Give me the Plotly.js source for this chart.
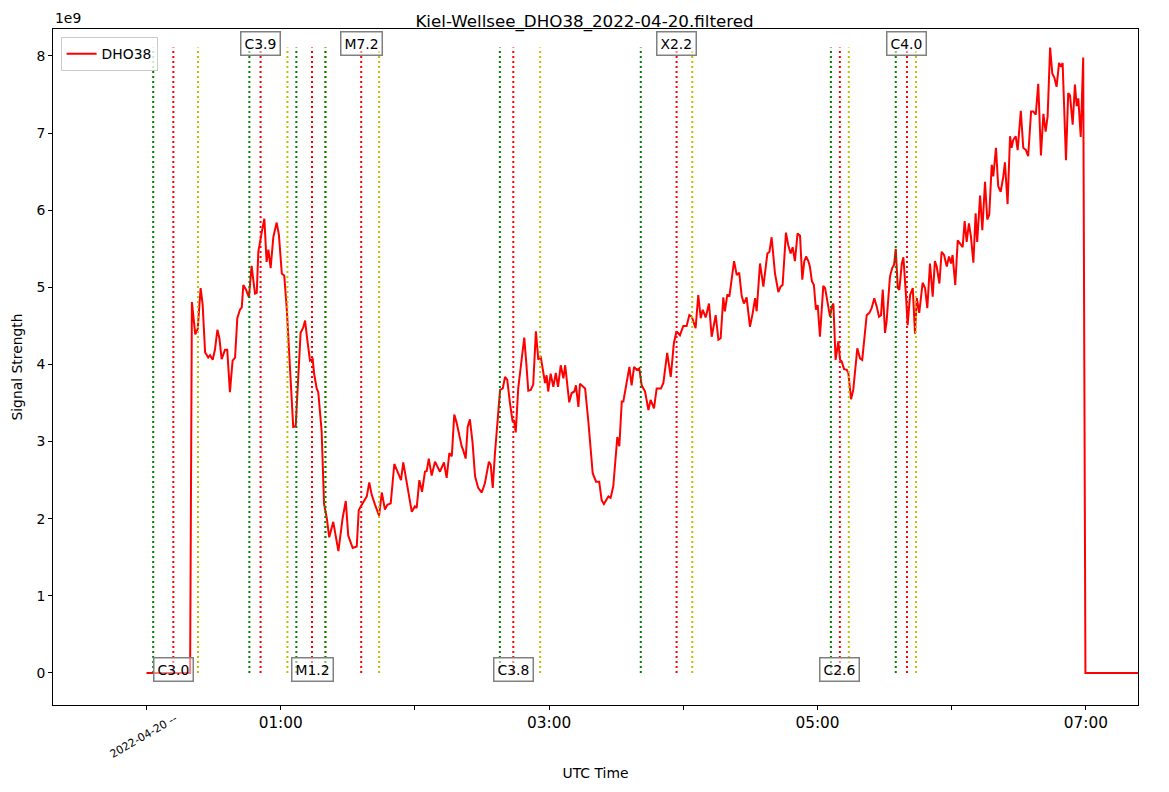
<!DOCTYPE html>
<html>
<head>
<meta charset="utf-8">
<script src="https://cdn.plot.ly/plotly-3.0.1.min.js"></script>
<style>
  html, body { margin: 0; padding: 0; background: #fff; }
  #chart { width: 1169px; height: 792px; }
</style>
</head>
<body>
<div id="chart"></div>
<script>
// minutes after 2022-04-20 00:00 UTC, signal in units of 1e9
let minutes = [0, 19.5, 20.3, 21.8, 22.9, 24.2, 25.1, 26.2, 27.6, 28.4, 29.6, 30.6, 31.7, 32.6, 33.6, 35.1,
  36.1, 37.3, 38.5, 39.6, 40.6, 41.8, 42.6, 43.3, 44.5, 45.8, 47.0, 48.5, 49.3, 50.0, 51.5, 52.7,
  53.7, 54.5, 55.5, 56.7, 58.2, 59.2, 60.5, 61.6, 62.7, 64.2, 65.6, 66.7, 67.9, 68.9, 70.1, 70.9,
  71.9, 73.1, 74.3, 75.0, 76.1, 76.8, 78.3, 79.4, 80.6, 81.7, 83.5, 85.8, 87.7, 89.1, 90.2, 92.2,
  94.0, 94.9, 95.8, 97.2, 98.5, 99.6, 100.7, 102.2, 104.0, 105.2, 106.6, 107.7, 109.2, 110.8, 111.9, 113.0,
  113.8, 114.8, 116.0, 117.1, 118.6, 120.0, 120.8, 122.0, 123.2, 124.5, 125.3, 126.2, 127.5, 129.0, 131.2, 133.0,
  134.2, 135.4, 136.5, 137.6, 138.7, 140.9, 141.6, 142.7, 143.6, 144.6, 145.8, 146.9, 148.3, 149.9, 151.3, 153.1,
  153.9, 154.8, 155.8, 158.1, 159.3, 160.3, 161.3, 162.5, 163.7, 164.3, 165.1, 166.2, 167.8, 168.9, 169.7, 170.7,
  171.8, 172.9, 174.1, 175.2, 176.2, 178.2, 178.9, 179.6, 180.7, 181.9, 183.0, 184.0, 185.2, 186.4, 187.2, 189.0,
  190.1, 191.3, 192.0, 193.1, 193.8, 196.1, 197.5, 199.5, 201.0, 202.4, 203.5, 204.5, 206.5, 207.5, 208.7, 210.5,
  211.4, 212.5, 213.2, 214.7, 215.9, 216.9, 218.0, 219.2, 220.3, 221.4, 222.9, 224.4, 225.4, 226.9, 228.1, 230.0,
  231.1, 232.8, 234.4, 235.8, 237.0, 238.5, 240.0, 241.5, 242.7, 243.8, 245.5, 246.7, 247.8, 248.7, 250.0, 251.5,
  252.7, 254.5, 255.7, 256.7, 257.9, 258.6, 259.7, 260.6, 262.7, 263.9, 265.0, 266.1, 267.1, 268.3, 269.8, 271.0,
  272.1, 272.8, 274.3, 275.8, 277.6, 278.5, 279.5, 281.0, 282.5, 283.5, 284.4, 285.9, 286.9, 288.0, 288.9, 289.9,
  291.1, 292.2, 293.2, 294.1, 294.9, 295.9, 296.6, 297.5, 298.4, 299.3, 300.1, 301.1, 301.9, 302.6, 303.4, 304.4,
  305.6, 306.4, 307.1, 308.1, 309.3, 310.1, 310.8, 311.9, 313.1, 313.8, 315.0, 316.0, 317.8, 319.0, 320.0, 322.0,
  323.2, 324.2, 325.4, 326.5, 327.5, 328.4, 329.2, 330.2, 330.9, 332.4, 333.4, 334.2, 335.0, 335.9, 336.6, 337.7,
  338.4, 339.6, 340.3, 341.4, 342.6, 343.6, 344.4, 345.5, 347.0, 348.1, 349.1, 350.3, 351.5, 352.5, 353.3, 354.5,
  355.5, 356.6, 357.8, 358.8, 359.7, 360.4, 361.6, 362.7, 363.7, 364.9, 365.8, 366.7, 367.7, 368.6, 369.7, 370.7,
  371.4, 372.7, 373.7, 374.9, 375.9, 376.8, 377.9, 378.6, 379.8, 380.8, 381.9, 383.1, 383.8, 385.0, 386.1, 386.8,
  387.5, 388.6, 389.5, 390.9, 392.0, 393.2, 394.2, 395.5, 396.5, 397.6, 398.7, 399.9, 401.0, 402.0, 402.9, 404.0,
  405.0, 405.9, 406.9, 408.0, 408.9, 409.6, 411.1, 412.1, 412.9, 414.1, 415.1, 415.9, 416.6, 417.7, 418.8, 419.8,
  480];
let signal = [0, 0, 4.81, 4.39, 4.46, 4.99, 4.78, 4.16, 4.09, 4.12, 4.06, 4.19, 4.45, 4.34, 4.07, 4.19,
  4.19, 3.64, 4.05, 4.09, 4.60, 4.71, 4.74, 5.03, 4.97, 4.87, 5.28, 4.92, 4.93, 5.46, 5.71, 5.89,
  5.33, 5.49, 5.25, 5.65, 5.84, 5.68, 5.18, 5.15, 4.73, 3.87, 3.19, 3.20, 3.91, 4.41, 4.48, 4.57,
  4.32, 4.05, 4.07, 3.87, 3.69, 3.64, 3.14, 2.19, 2.01, 1.76, 1.96, 1.58, 2.01, 2.23, 1.78, 1.62,
  1.64, 2.11, 2.16, 2.22, 2.29, 2.47, 2.31, 2.18, 2.04, 2.34, 2.12, 2.18, 2.20, 2.71, 2.63, 2.55,
  2.50, 2.73, 2.51, 2.37, 2.09, 2.16, 2.14, 2.50, 2.35, 2.61, 2.62, 2.78, 2.56, 2.74, 2.61, 2.73,
  2.53, 2.85, 2.81, 3.35, 3.24, 2.94, 2.89, 2.78, 3.19, 3.29, 2.98, 2.55, 2.40, 2.34, 2.46, 2.74,
  2.70, 2.40, 2.85, 3.67, 3.69, 3.84, 3.80, 3.50, 3.26, 3.28, 3.12, 3.69, 4.11, 4.35, 4.06, 3.66,
  3.67, 3.74, 4.43, 4.06, 4.11, 3.76, 3.86, 3.65, 3.88, 3.71, 3.89, 3.71, 3.99, 3.82, 3.99, 3.51,
  3.63, 3.65, 3.73, 3.45, 3.75, 3.69, 3.28, 2.59, 2.48, 2.48, 2.24, 2.19, 2.29, 2.27, 2.42, 3.06,
  2.94, 3.52, 3.52, 3.78, 3.97, 3.73, 3.97, 3.93, 3.95, 3.73, 3.65, 3.41, 3.54, 3.43, 3.69, 3.69,
  3.76, 4.15, 3.84, 4.28, 4.43, 4.38, 4.50, 4.50, 4.64, 4.62, 4.47, 4.90, 4.60, 4.71, 4.61, 4.79,
  4.36, 4.64, 4.32, 4.34, 4.87, 4.69, 4.91, 4.88, 5.34, 5.16, 5.19, 4.89, 4.79, 4.87, 4.49, 4.66,
  4.86, 4.69, 5.31, 5.01, 5.44, 5.46, 5.65, 5.18, 4.94, 5.01, 5.03, 5.71, 5.55, 5.44, 5.52, 5.34,
  5.70, 5.67, 5.10, 5.34, 5.40, 5.34, 5.27, 5.08, 5.03, 4.71, 4.77, 4.36, 4.79, 5.02, 4.99, 4.82,
  4.62, 4.75, 4.79, 4.06, 4.30, 4.06, 4.04, 3.94, 3.93, 3.89, 3.55, 3.67, 4.21, 4.08, 4.06, 4.64,
  4.67, 4.73, 4.86, 4.75, 4.62, 4.64, 4.97, 4.41, 4.56, 5.14, 5.25, 5.29, 5.50, 4.99, 4.97, 5.31,
  5.39, 4.88, 4.51, 4.90, 4.99, 4.40, 4.86, 4.67, 5.06, 4.99, 4.73, 5.31, 4.88, 5.34, 5.27, 5.05,
  5.46, 5.42, 5.27, 5.40, 5.31, 5.42, 5.03, 5.61, 5.57, 5.52, 5.86, 5.59, 5.83, 5.66, 5.32, 5.96,
  5.59, 6.19, 5.74, 6.37, 5.88, 5.94, 6.59, 6.44, 6.81, 6.31, 6.24, 6.44, 6.62, 6.08, 6.96, 6.81,
  6.91, 6.96, 6.78, 7.29, 6.81, 6.78, 6.70, 7.28, 7.28, 7.24, 7.64, 6.71, 7.25, 7.02, 7.22, 8.11,
  7.77, 7.72, 7.60, 7.91, 7.86, 7.91, 6.65, 7.52, 7.49, 7.11, 7.63, 7.35, 7.45, 6.95, 7.98, 0,
  0];

let flareClass = ['C3.0', 'C3.9', 'M1.2', 'M7.2', 'C3.8', 'X2.2', 'C2.6', 'C4.0'];
let flareStart = ['00:03', '00:46', '01:07', '01:20', '02:38', '03:41', '05:06', '05:35'];
let flarePeak  = ['00:12', '00:51', '01:14', '01:36', '02:44', '03:57', '05:10', '05:40'];
let flareEnd   = ['00:23', '01:03', '01:20', '01:44', '02:56', '04:04', '05:14', '05:44'];

let hourTicks = ['00:00', '01:00', '02:00', '03:00', '04:00', '05:00', '06:00', '07:00'];
let hourLabels = ['', '01:00', '', '03:00', '', '05:00', '', '07:00'];

const day = Date.UTC(2022, 3, 20);

function stamp(ms) {
    let d = new Date(ms);
    let p = n => String(n).padStart(2, '0');
    return d.getUTCFullYear() + '-' + p(d.getUTCMonth() + 1) + '-' + p(d.getUTCDate()) + ' ' +
        p(d.getUTCHours()) + ':' + p(d.getUTCMinutes()) + ':' + p(d.getUTCSeconds()) + '.' +
        String(d.getUTCMilliseconds()).padStart(3, '0');
}
function fromMin(m) { return stamp(day + m * 60000); }
function fromHHMM(s) {
    let parts = s.split(':');
    return fromMin(Number(parts[0]) * 60 + Number(parts[1]));
}

let font = 'DejaVu Sans, Liberation Sans, sans-serif';
let ymax = Math.max(...signal);

let traces = [{
    x: minutes.map(fromMin),
    y: signal,
    mode: 'lines',
    name: 'DHO38',
    line: {color: '#ff0000', width: 2}
}];

let annotations = [];

function vline(t, color) {
    traces.push({
        x: [fromHHMM(t), fromHHMM(t)],
        y: [0, ymax],
        mode: 'lines',
        showlegend: false,
        hoverinfo: 'skip',
        line: {color: color, width: 2, dash: '2px,3px'}
    });
}

for (let i = 0; i < flareClass.length; i++) {
    vline(flareStart[i], '#008000');
    vline(flarePeak[i], '#ff0000');
    vline(flareEnd[i], '#bfbf00');
    annotations.push({
        x: fromHHMM(flarePeak[i]),
        y: i % 2 === 0 ? 0 : ymax,
        xref: 'x', yref: 'y',
        yshift: i % 2 === 0 ? 3 : 4,
        text: flareClass[i],
        showarrow: false,
        font: {family: font, size: 13.9, color: '#000'},
        bgcolor: 'rgba(255,255,255,0.5)',
        bordercolor: '#808080',
        borderwidth: 1.5,
        borderpad: 3
    });
}

// date label under the first tick, rotated like matplotlib's autofmt
annotations.push({
    x: fromMin(0), y: -0.087, xref: 'x', yref: 'paper',
    xshift: -3,
    text: '2022-04-20 --',
    textangle: -30,
    showarrow: false,
    font: {family: font, size: 11, color: '#000'}
});
// offset text for the y axis
annotations.push({
    x: 0, y: 1, xref: 'paper', yref: 'paper',
    xanchor: 'left', yanchor: 'bottom', yshift: 1,
    text: '1e9',
    showarrow: false,
    font: {family: font, size: 13.9, color: '#000'}
});

let layout = {
    width: 1169,
    height: 792,
    margin: {l: 53, r: 31, t: 29, b: 87},
    paper_bgcolor: '#fff',
    plot_bgcolor: '#fff',
    font: {family: font, size: 13.9, color: '#000'},
    title: {
        text: 'Kiel-Wellsee_DHO38_2022-04-20.filtered',
        font: {family: font, size: 16.7, color: '#000'},
        x: 0.5, xref: 'container', y: 0.973, yanchor: 'middle'
    },
    showlegend: true,
    legend: {
        x: 0.007, y: 0.988, xanchor: 'left', yanchor: 'top',
        bgcolor: 'rgba(255,255,255,0.8)',
        bordercolor: '#cccccc', borderwidth: 1,
        font: {family: font, size: 13.9}
    },
    xaxis: {
        type: 'date',
        range: [fromMin(-41.8), fromMin(443.3)],
        tickvals: hourTicks.map(fromHHMM),
        ticktext: hourLabels,
        tickfont: {family: font, size: 15.3},
        ticks: 'outside', ticklen: 4, tickcolor: '#000',
        showgrid: false, zeroline: false,
        showline: true, linecolor: '#000', linewidth: 1, mirror: true,
        title: {text: 'UTC Time', font: {family: font, size: 13.9}, standoff: 36}
    },
    yaxis: {
        range: [-0.415, 8.35],
        tickvals: [0, 1, 2, 3, 4, 5, 6, 7, 8],
        ticks: 'outside', ticklen: 4, tickcolor: '#000',
        tickfont: {family: font, size: 13.9},
        showgrid: false, zeroline: false,
        showline: true, linecolor: '#000', linewidth: 1, mirror: true,
        title: {text: 'Signal Strength', font: {family: font, size: 13.9}, standoff: 10}
    },
    annotations: annotations
};

Plotly.newPlot('chart', traces, layout, {displayModeBar: false, staticPlot: true});
</script>
</body>
</html>
